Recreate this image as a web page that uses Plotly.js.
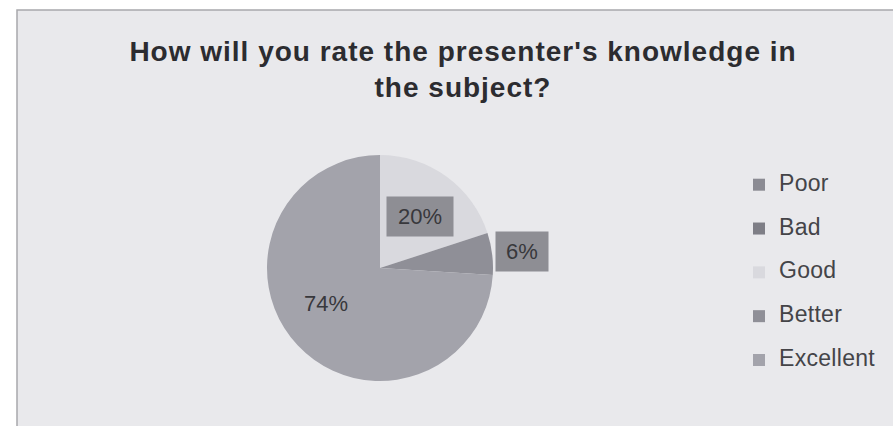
<!DOCTYPE html>
<html><head><meta charset="utf-8">
<script src="https://cdn.plot.ly/plotly-3.0.1.min.js"></script>
<style>html,body{margin:0;padding:0;background:#fff}</style>
</head><body><div id="chart" style="width:893px;height:426px"></div>
<script>
// ---- data ----
const categories = ['Poor', 'Bad', 'Good', 'Better', 'Excellent'];
const values = [0, 0, 20, 6, 74];
const percentLabels = ['0%', '0%', '20%', '6%', '74%'];
const titleLines = ["How will you rate the presenter's knowledge in", 'the subject?'];

// ---- style ----
const sliceColors = ['#8b8b93', '#7e7e86', '#d9d9de', '#8f8f97', '#a3a3ab'];
const labelRadius = [0, 0, 0.575, 1.265, 0.57];
const labelAngleNudge = [0, 0, 1.5, 0.6, 10];
const labelBg = ['rgba(0,0,0,0)', 'rgba(0,0,0,0)', '#8e8e94', '#8e8e94', 'rgba(0,0,0,0)'];
const labelW = [0, 0, 64, 50, 60];
const W = 893, H = 426;
const cx = 380, cy = 268, R = 113;

const legendNames = categories.map(c =>
  '<span style="font-size:23px;letter-spacing:0.3px">' + c + '</span><br> ');
const titleText = titleLines.map(t => '<span style="letter-spacing:1px">' + t + '</span>').join('<br>');

const total = values.reduce((a, b) => a + b, 0);
let cum = 0;
const annotations = [];
values.forEach((v, i) => {
  const start = cum; cum += v;
  if (v <= 0) return;
  const mid = ((start + v / 2) / total * 360 + labelAngleNudge[i]) * Math.PI / 180;
  const r = R * labelRadius[i];
  const px = cx + r * Math.sin(mid);
  const py = cy - r * Math.cos(mid);
  annotations.push({
    xref: 'paper', yref: 'paper', x: px / W, y: 1 - py / H,
    xanchor: 'center', yanchor: 'middle', showarrow: false,
    text: percentLabels[i], bgcolor: labelBg[i], width: labelW[i], height: 37,
    font: {family: 'Liberation Sans, Arial, sans-serif', size: 22, color: '#38383c'}
  });
});

const trace = {
  type: 'pie', labels: legendNames, values: values, sort: false,
  direction: 'clockwise', rotation: 0, textinfo: 'none', hoverinfo: 'label+percent',
  marker: {colors: sliceColors, line: {width: 0}},
  domain: {x: [(cx - R) / W, (cx + R) / W], y: [1 - (cy + R) / H, 1 - (cy - R) / H]}
};

const layout = {
  width: W, height: H, margin: {l: 0, r: 0, t: 0, b: 0},
  paper_bgcolor: '#ffffff',
  title: {text: titleText, x: 463 / W, xanchor: 'center', y: 1 - 61 / H, yanchor: 'top',
    font: {family: 'Liberation Sans, Arial, sans-serif', size: 28, color: '#2c2c30', weight: 'bold'}},
  showlegend: true,
  legend: {x: 739 / W, xanchor: 'left', y: 1 - 168 / H, yanchor: 'top', valign: 'top',
    bgcolor: 'rgba(0,0,0,0)',
    font: {family: 'Liberation Sans, Arial, sans-serif', size: 15.7, color: '#444448'}},
  shapes: [{type: 'rect', layer: 'below', xref: 'paper', yref: 'paper',
    x0: 17 / W, x1: 1.01, y0: -0.01, y1: 1 - 10 / H,
    fillcolor: '#e9e9ec', line: {color: '#a8a8ac', width: 1.5}}],
  annotations: annotations
};

Plotly.newPlot('chart', [trace], layout, {displayModeBar: false, staticPlot: true});
</script></body></html>
